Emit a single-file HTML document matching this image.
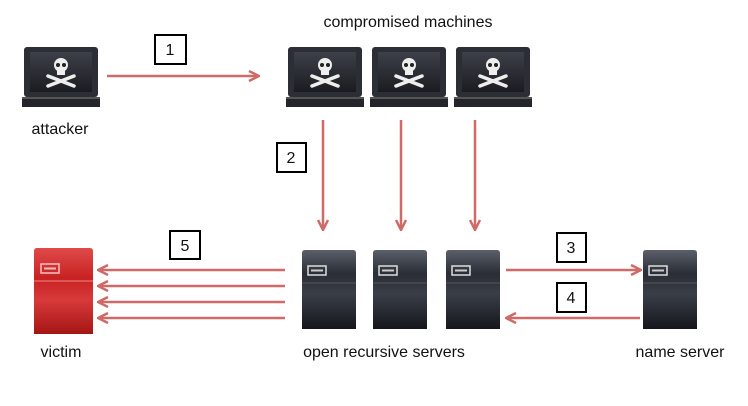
<!DOCTYPE html>
<html><head><style>body{margin:0;background:#fff}svg{display:block}text{font-family:"Liberation Sans",sans-serif;fill:#111}</style></head><body>
<svg width="748" height="406" viewBox="0 0 748 406" xmlns="http://www.w3.org/2000/svg">
<defs>
<linearGradient id="srv" x1="0" y1="0" x2="0" y2="1"><stop offset="0" stop-color="#5a5f6a"/><stop offset="0.3" stop-color="#2a2d35"/><stop offset="0.55" stop-color="#3a3e48"/><stop offset="1" stop-color="#15171c"/></linearGradient>
<linearGradient id="red" x1="0" y1="0" x2="0" y2="1"><stop offset="0" stop-color="#e04a4a"/><stop offset="0.35" stop-color="#c82222"/><stop offset="0.6" stop-color="#d83a3a"/><stop offset="1" stop-color="#a51515"/></linearGradient>
<linearGradient id="scr" x1="0" y1="0" x2="0" y2="1"><stop offset="0" stop-color="#3d4048"/><stop offset="1" stop-color="#1a1c21"/></linearGradient>
<marker id="ah" markerWidth="12" markerHeight="12" refX="10" refY="6" orient="auto" markerUnits="userSpaceOnUse"><path d="M1,1 L11,6 L1,11" fill="none" stroke="#cf6a66" stroke-width="2.5"/></marker>
<g id="lap">
<rect x="0" y="0" width="74" height="50" rx="3" fill="#2b2e35"/>
<rect x="6" y="5" width="62" height="40" fill="url(#scr)"/>
<circle cx="37" cy="18" r="7" fill="#eee"/><rect x="33" y="22" width="8" height="6" fill="#eee"/>
<circle cx="34" cy="18" r="2" fill="#222"/><circle cx="40" cy="18" r="2" fill="#222"/>
<path d="M24,29 L50,39 M50,29 L24,39" stroke="#eee" stroke-width="3.5" stroke-linecap="round"/>
<path d="M-2,50 L76,50 L76,60 L-2,60 Z" fill="#23252b"/><rect x="-2" y="50" width="78" height="2" fill="#555"/>
</g>
<g id="srvr">
<path d="M0,3 Q0,0 3,0 L51,0 Q54,0 54,3 L54,79 L0,79 Z" fill="url(#srv)"/>
<rect x="6" y="16" width="18" height="9" fill="none" stroke="#ddd" stroke-width="1.5"/>
<rect x="9" y="19.5" width="12" height="2" fill="#ccc"/>
<line x1="0" y1="33" x2="54" y2="33" stroke="#555" stroke-width="1"/>
</g>
</defs>
<text x="408" y="27" font-size="16" text-anchor="middle">compromised machines</text>
<use href="#lap" x="24" y="47"/>
<use href="#lap" x="288" y="47"/>
<use href="#lap" x="372" y="47"/>
<use href="#lap" x="456" y="47"/>
<text x="60" y="134" font-size="16" text-anchor="middle">attacker</text>
<g stroke="#cf6a66" stroke-width="2.5" marker-end="url(#ah)">
<line x1="107" y1="76" x2="258" y2="76"/>
<line x1="323" y1="120" x2="323" y2="229"/>
<line x1="401" y1="120" x2="401" y2="229"/>
<line x1="475" y1="120" x2="475" y2="229"/>
<line x1="285" y1="270" x2="99" y2="270"/>
<line x1="285" y1="286" x2="99" y2="286"/>
<line x1="285" y1="302" x2="99" y2="302"/>
<line x1="285" y1="318" x2="99" y2="318"/>
<line x1="506" y1="270" x2="640" y2="270"/>
<line x1="640" y1="318" x2="507" y2="318"/>
</g>
<g fill="#fff" stroke="#000" stroke-width="2">
<rect x="155" y="35" width="31" height="29"/>
<rect x="277" y="143" width="29" height="29"/>
<rect x="170" y="231" width="30" height="28"/>
<rect x="557" y="233" width="29" height="29"/>
<rect x="557" y="283" width="29" height="29"/>
</g>
<g font-size="16" text-anchor="middle">
<text x="170" y="55">1</text><text x="291" y="163">2</text><text x="185" y="251">5</text><text x="571" y="253">3</text><text x="571" y="303">4</text>
</g>
<path d="M34,251 Q34,248 37,248 L90,248 Q93,248 93,251 L93,334 L34,334 Z" fill="url(#red)"/>
<rect x="41" y="264" width="18" height="9" fill="none" stroke="#f3c0c0" stroke-width="1.5"/>
<rect x="44" y="267.5" width="12" height="2" fill="#f3c0c0"/>
<line x1="34" y1="281" x2="93" y2="281" stroke="#e88" stroke-width="1"/>
<use href="#srvr" x="302" y="250"/>
<use href="#srvr" x="373" y="250"/>
<use href="#srvr" x="446" y="250"/>
<use href="#srvr" x="643" y="250"/>
<g font-size="16" text-anchor="middle">
<text x="61" y="357">victim</text>
<text x="384" y="357">open recursive servers</text>
<text x="680" y="357">name server</text>
</g>
</svg>
</body></html>
